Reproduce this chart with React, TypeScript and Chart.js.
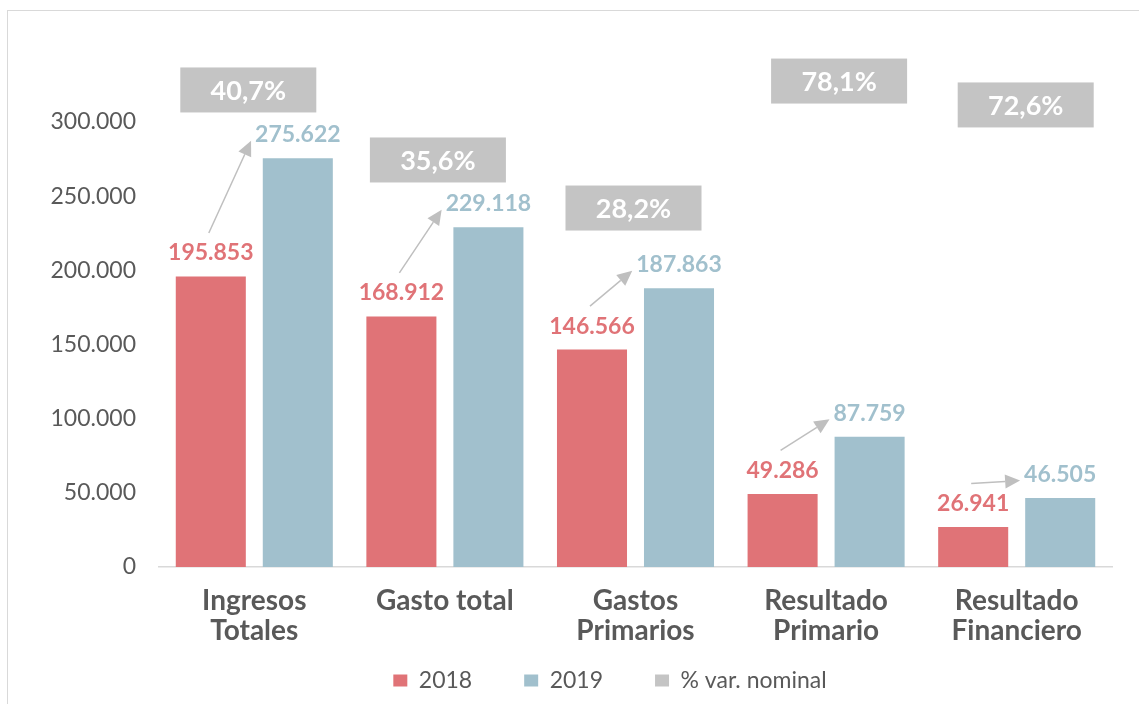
import React, { useEffect, useRef } from "react";
import { Chart, registerables } from "chart.js";

Chart.register(...registerables);

// ---- data ----
const categories: string[][] = [
  ["Ingresos", "Totales"],
  ["Gasto total"],
  ["Gastos", "Primarios"],
  ["Resultado", "Primario"],
  ["Resultado", "Financiero"],
];
const seriesNames = ["2018", "2019", "% var. nominal"];
const values2018 = [195853, 168912, 146566, 49286, 26941];
const values2019 = [275622, 229118, 187863, 87759, 46505];
const pctVar = [40.7, 35.6, 28.2, 78.1, 72.6];
const yMin = 0;
const yMax = 300000;
const yStep = 50000;

// ---- layout of the % boxes (anchor in y-axis units, x shift in px) ----
const pctBoxAnchor = [321600, 274400, 242000, 327600, 311500];
const pctBoxShift = [-6, -7, -2, 13, 9];
const LEGEND_SHIFT = 45;

const RED = "#E07377";
const BLUE = "#A1C0CD";
const GRAY = "#C4C4C4";
const TEXT = "#595959";
const ARROW = "#BFBFBF";

const fmt = (v: number) =>
  Math.round(v).toString().replace(/\B(?=(\d{3})+(?!\d))/g, ".");
const fmtPct = (v: number) => v.toFixed(1).replace(".", ",") + "%";

function drawArrow(ctx: CanvasRenderingContext2D, x1: number, y1: number, x2: number, y2: number) {
  const ang = Math.atan2(y2 - y1, x2 - x1);
  const hl = 15;
  const hw = 7;
  const bx = x2 - hl * Math.cos(ang);
  const by = y2 - hl * Math.sin(ang);
  ctx.strokeStyle = ARROW;
  ctx.lineWidth = 1.5;
  ctx.beginPath();
  ctx.moveTo(x1, y1);
  ctx.lineTo(bx, by);
  ctx.stroke();
  ctx.fillStyle = ARROW;
  ctx.beginPath();
  ctx.moveTo(x2, y2);
  ctx.lineTo(bx + hw * Math.sin(ang), by - hw * Math.cos(ang));
  ctx.lineTo(bx - hw * Math.sin(ang), by + hw * Math.cos(ang));
  ctx.closePath();
  ctx.fill();
}

const layoutPlugin = {
  id: "layoutTweak",
  afterLayout(chart: any) {
    // let the two-line category labels extend below the axis box
    const xs = chart.scales.x;
    xs.bottom = chart.height;
    const lg = chart.legend;
    if (lg) {
      lg.left += LEGEND_SHIFT;
      lg.right += LEGEND_SHIFT;
    }
  },
};

const overlayPlugin = {
  id: "overlay",
  afterDatasetsDraw(chart: any) {
    const ctx: CanvasRenderingContext2D = chart.ctx;
    const m0 = chart.getDatasetMeta(0);
    const m1 = chart.getDatasetMeta(1);
    const xs = chart.scales.x;
    const ys = chart.scales.y;
    ctx.save();
    ctx.textAlign = "center";
    ctx.textBaseline = "middle";
    for (let i = 0; i < categories.length; i++) {
      const r = m0.data[i];
      const b = m1.data[i];
      const ry = r.y - 23.5;
      const by = b.y - 23.5;
      ctx.font = "bold 23px Lato";
      ctx.fillStyle = RED;
      ctx.fillText(fmt(values2018[i]), r.x, ry);
      ctx.fillStyle = BLUE;
      const t2 = fmt(values2019[i]);
      ctx.fillText(t2, b.x, by);
      const bw = ctx.measureText(t2).width;
      drawArrow(ctx, r.x - 2, ry - 20, b.x - bw / 2 - 4, by + 6);

      const cx = xs.getPixelForValue(i) + pctBoxShift[i];
      const cy = ys.getPixelForValue(pctBoxAnchor[i]);
      ctx.fillStyle = GRAY;
      ctx.fillRect(cx - 68, cy - 22.5, 136, 45);
      ctx.fillStyle = "#FFFFFF";
      ctx.font = "bold 27px Lato";
      ctx.fillText(fmtPct(pctVar[i]), cx, cy + 1);
    }
    ctx.restore();
  },
};

export default function App() {
  const ref = useRef<HTMLCanvasElement | null>(null);
  useEffect(() => {
    if (!ref.current) return;
    Chart.defaults.font.family = "Lato";
    const chart = new Chart(ref.current, {
      type: "bar",
      data: {
        labels: categories as any,
        datasets: [
          {
            label: seriesNames[0],
            data: values2018,
            backgroundColor: RED,
            barPercentage: 0.805,
            categoryPercentage: 0.913,
          },
          {
            label: seriesNames[1],
            data: values2019,
            backgroundColor: BLUE,
            barPercentage: 0.805,
            categoryPercentage: 0.913,
          },
          {
            type: "line",
            label: seriesNames[2],
            data: pctVar,
            yAxisID: "y2",
            showLine: false,
            pointRadius: 0,
            backgroundColor: GRAY,
            borderColor: GRAY,
            borderWidth: 0,
          } as any,
        ],
      },
      options: {
        responsive: false,
        animation: false,
        layout: { padding: { left: 10, right: 27, top: 111, bottom: 2 } },
        scales: {
          x: {
            grid: { display: false, drawTicks: false },
            border: { color: "#D9D9D9", width: 1.5 },
            ticks: {
              font: { family: "Lato", size: 28, weight: "bold", lineHeight: 1.07 },
              color: TEXT,
              padding: 19,
              maxRotation: 0,
              autoSkip: false,
            },
            afterFit: (s: any) => {
              s.height = 50;
            },
          },
          y: {
            min: yMin,
            max: yMax,
            grid: { display: false, drawTicks: false },
            border: { display: false },
            ticks: {
              stepSize: yStep,
              font: { family: "Lato", size: 23 },
              color: TEXT,
              padding: 23,
              callback: (v: any) => fmt(Number(v)),
            },
            afterFit: (s: any) => {
              s.width = 141;
            },
          },
          y2: { display: false, min: 0, max: 100 },
        },
        plugins: {
          legend: {
            position: "bottom",
            labels: {
              font: { family: "Lato", size: 23 },
              color: TEXT,
              boxWidth: 14,
              boxHeight: 12,
              padding: 52,
            },
          },
          tooltip: { enabled: false },
        },
      },
      plugins: [layoutPlugin, overlayPlugin],
    } as any);
    return () => chart.destroy();
  }, []);

  return (
    <div
      style={{
        position: "absolute",
        left: 7,
        top: 10,
        width: 1132,
        height: 694,
        borderLeft: "1px solid #D9D9D9",
        borderTop: "1px solid #D9D9D9",
        background: "#FFFFFF",
        boxSizing: "border-box",
      }}
    >
      <canvas ref={ref} width={1131} height={693} style={{ display: "block" }} />
    </div>
  );
}
